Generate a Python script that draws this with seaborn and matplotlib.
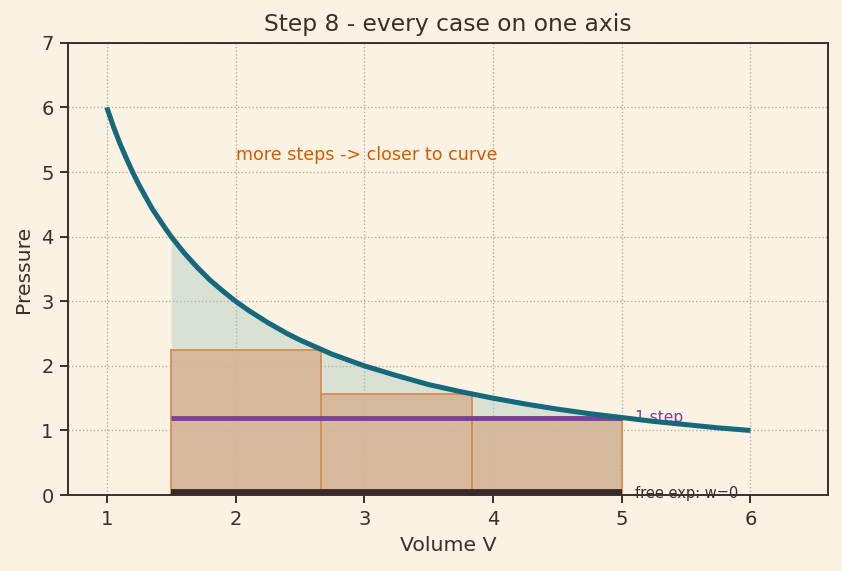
import numpy as np
import pandas as pd
import matplotlib
matplotlib.use("Agg")
import matplotlib.pyplot as plt
import seaborn as sns

# isotherm
volume = [1.0, 1.05, 1.1, 1.15, 1.2, 1.25, 1.3, 1.35, 1.4, 1.45, 1.5, 1.6, 1.7, 1.8, 1.9,
          2.0, 2.1, 2.25, 2.4, 2.5, 2.75, 3.0, 3.25, 3.5, 3.75, 4.0, 4.25, 4.5, 4.75,
          5.0, 5.25, 5.5, 5.75, 6.0]
pressure = [6.0, 5.71, 5.45, 5.22, 5.0, 4.8, 4.62, 4.44, 4.29, 4.14, 4.0, 3.75, 3.53, 3.33, 3.16,
            3.0, 2.86, 2.67, 2.5, 2.4, 2.18, 2.0, 1.85, 1.71, 1.6, 1.5, 1.41, 1.33, 1.26,
            1.2, 1.14, 1.09, 1.04, 1.0]

# three-step expansion rectangles
step_left = [1.5, 2.667, 3.833]
step_width = [1.167, 1.167, 1.167]
step_height = [2.25, 1.565, 1.2]

one_step_v = [1.5, 5.0]
one_step_p = [1.2, 1.2]
free_v = [1.5, 5.0]
free_p = [0.05, 0.05]

bg = "#faf3e3"
ink = "#3b2f2a"
sns.set_theme(style="whitegrid", rc={
    "axes.facecolor": bg, "figure.facecolor": bg,
    "axes.edgecolor": ink, "axes.labelcolor": ink,
    "xtick.color": ink, "ytick.color": ink, "text.color": ink,
    "grid.color": "#b3aa98", "grid.linestyle": ":", "grid.linewidth": 0.7,
})
plt.rcParams['font.family'] = ['DejaVu Sans']

fig, ax = plt.subplots(figsize=(842 / 140, 571 / 140), dpi=140)
fig.subplots_adjust(left=0.081, right=0.983, top=0.925, bottom=0.133)

df = pd.DataFrame({"V": volume, "P": pressure})
seg = df[(df.V >= 1.5) & (df.V <= 5.0)]
ax.fill_between(seg.V, 0, seg.P, color="#a9c6c0", alpha=0.4, lw=0)

ax.bar(step_left, step_height, width=step_width, align="edge",
       color="#d4b597", edgecolor="#d98b50", linewidth=1.0, alpha=0.9, zorder=2)

sns.lineplot(data=df, x="V", y="P", ax=ax, color="#15697a", lw=2.6, zorder=4,
             solid_capstyle="butt")
ax.plot(one_step_v, one_step_p, color="#7b3f98", lw=2.5, zorder=3, solid_capstyle="butt")
ax.plot(free_v, free_p, color="#3a2a25", lw=3, zorder=3, solid_capstyle="butt")

ax.text(5.1, 1.2, "1 step", color="#7b3f98", fontsize=8, va="center")
ax.text(5.1, 0.03, "free exp: w=0", color=ink, fontsize=7.5, va="center")
ax.text(2.0, 5.18, "more steps -> closer to curve", color="#d35a00", fontsize=9)

ax.set_xlim(0.7, 6.6)
ax.set_ylim(0, 7)
ax.set_xticks([1, 2, 3, 4, 5, 6])
ax.set_yticks(range(8))
ax.tick_params(labelsize=10, length=4, width=1, left=True, bottom=True)
for s in ax.spines.values():
    s.set_linewidth(1.0)
ax.set_xlabel("Volume V", fontsize=10.5)
ax.set_ylabel("Pressure", fontsize=10.5)
ax.set_title("Step 8 - every case on one axis", fontsize=12)

fig.savefig("out.png", dpi=140)
